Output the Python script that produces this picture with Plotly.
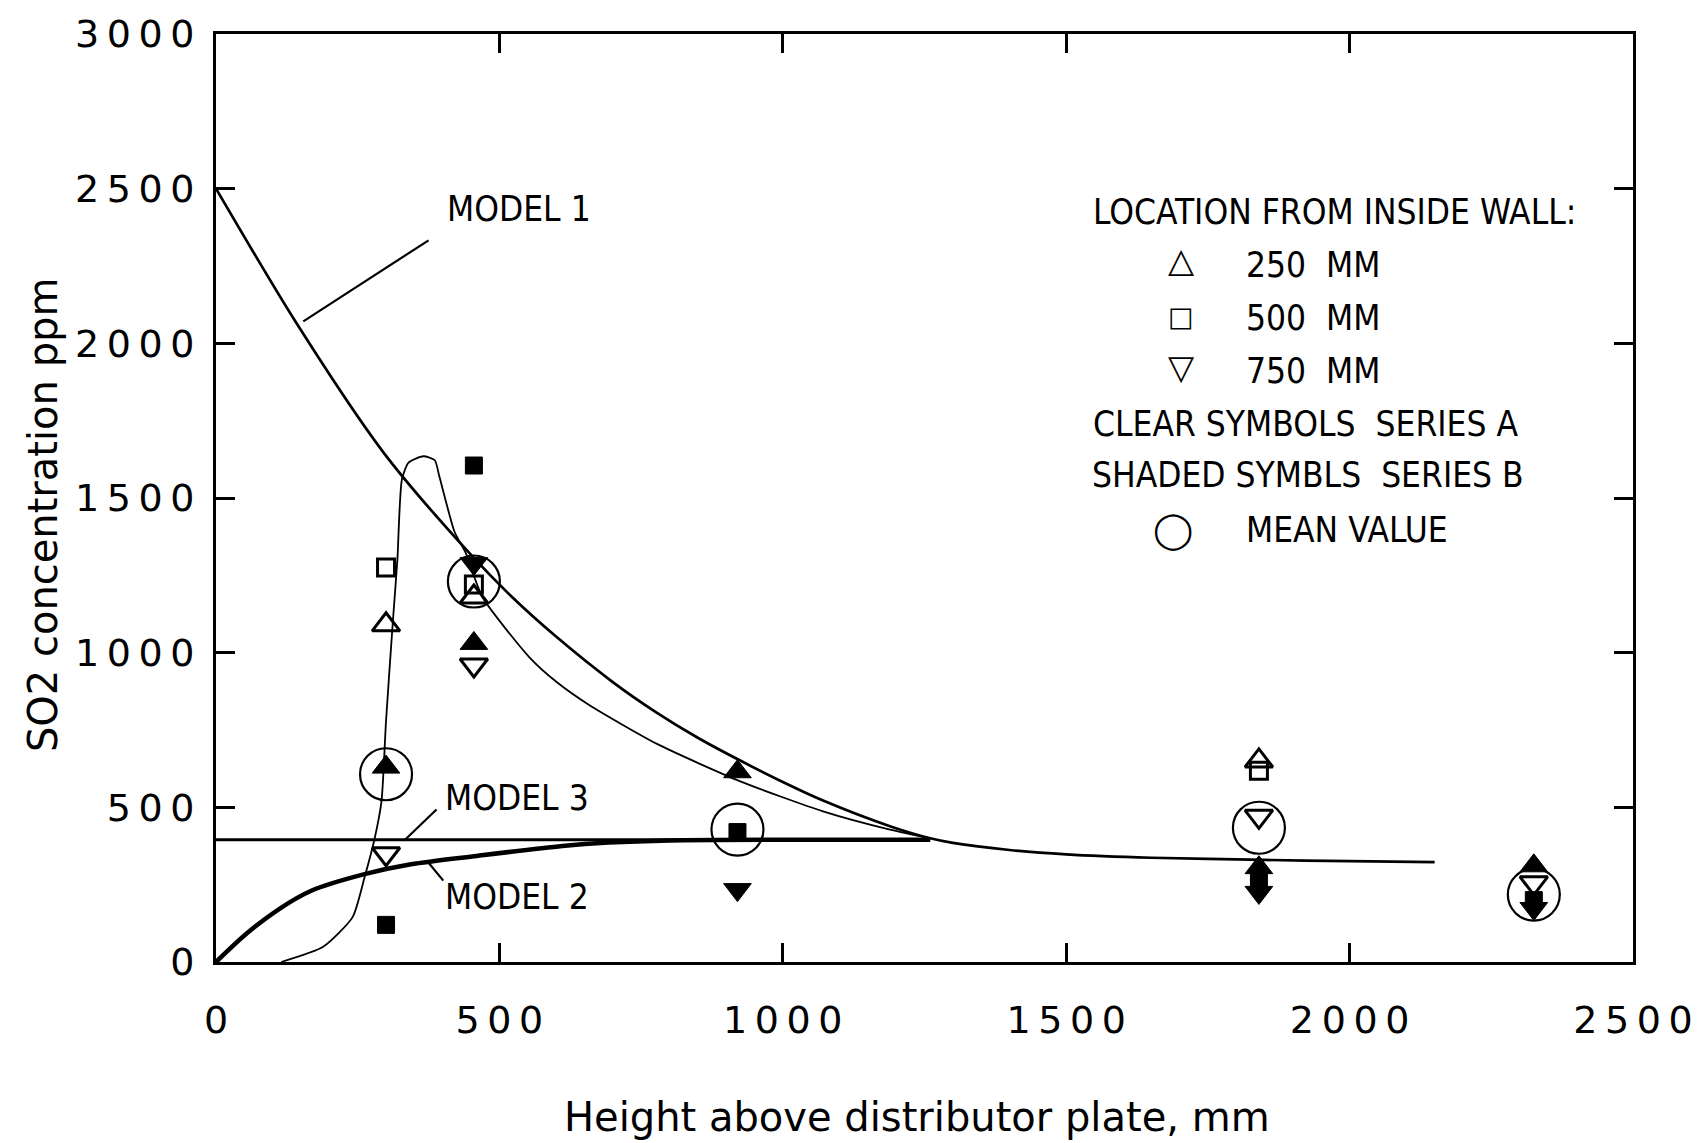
import plotly.graph_objects as go

# ---------------- data ----------------
# Measured SO2 concentration (ppm) at each sampling height (mm)
heights = [300, 455, 920, 1840, 2325]

# Series A (clear symbols), by radial location from the inside wall
a250_x = [300, 455, 1840]
a250_y = [1090, 1180, 650]
a500_x = [300, 455, 1840]
a500_y = [1275, 1220, 618]
a750_x = [300, 455, 1840, 2325]
a750_y = [350, 960, 471, 256]

# Series B (shaded symbols)
b250_x = [300, 455, 920, 1840, 2325]
b250_y = [630, 1030, 615, 305, 311]
b500_x = [300, 455, 920, 1840, 2325]
b500_y = [120, 1605, 420, 266, 200]
b750_x = [455, 920, 1840, 2325]
b750_y = [1288, 234, 225, 173]

# Mean value at each height
mean_y = [607, 1230, 428, 434, 218]

# Model predictions
model1_x = [0, 141, 296, 448, 520, 600, 700, 776, 850, 924, 1000, 1071, 1189, 1260,
            1300, 1400, 1500, 1650, 1850, 2000, 2150]
model1_y = [2500, 2068, 1646, 1320, 1184, 1052, 905, 808, 725, 652, 582, 522, 439, 400,
            385, 362, 348, 337, 330, 326, 323]
model2_x = [0, 54, 112, 169, 262, 344, 460, 611, 693, 800, 1000, 1260]
model2_y = [0, 92, 172, 231, 284, 316, 343, 375, 386, 393, 395, 395]
model3_x = [0, 1260]
model3_y = [395, 395]
# Curve drawn through the measurements
fit_x = [115, 189, 241, 262, 280, 292, 300, 312, 320, 328, 340, 366, 386, 394, 421, 440,
         470, 553, 601, 659, 778, 925, 1071, 1189, 1260]
fit_y = [0, 49, 145, 273, 400, 520, 780, 1100, 1300, 1560, 1615, 1635, 1622, 1570, 1390, 1325,
         1180, 985, 905, 830, 705, 584, 487, 428, 400]

x_ticks = [0, 500, 1000, 1500, 2000, 2500]
y_ticks = [0, 500, 1000, 1500, 2000, 2500, 3000]

# ---------------- styling ----------------
TICK_FONT = "DejaVu Sans"
LABEL_FONT = "DejaVu Sans Condensed, Liberation Sans Narrow, Liberation Sans, sans-serif"
BLACK = "black"


def spaced(v):
    return "\u2009".join(str(v))


fig = go.Figure()

# model curves
fig.add_trace(go.Scatter(x=model3_x, y=model3_y, mode="lines",
                         line=dict(color=BLACK, width=3), name="Model 3"))
fig.add_trace(go.Scatter(x=model2_x, y=model2_y, mode="lines",
                         line=dict(color=BLACK, width=4.5, shape="spline", smoothing=0.8),
                         name="Model 2"))
fig.add_trace(go.Scatter(x=model1_x, y=model1_y, mode="lines",
                         line=dict(color=BLACK, width=2.7, shape="spline", smoothing=0.8),
                         name="Model 1"))
fig.add_trace(go.Scatter(x=fit_x, y=fit_y, mode="lines",
                         line=dict(color=BLACK, width=1.8, shape="spline", smoothing=0.6),
                         name="fit"))

# mean value circles
fig.add_trace(go.Scatter(x=heights, y=mean_y, mode="markers",
                         marker=dict(symbol="circle-open", size=52, color=BLACK,
                                     line=dict(width=2.2, color=BLACK)),
                         name="Mean value"))

TRI = 24
SQ = 17
open_line = dict(width=3, color=BLACK)
fill_line = dict(width=1, color=BLACK)

# series A (open)
fig.add_trace(go.Scatter(x=a250_x, y=a250_y, mode="markers",
                         marker=dict(symbol="triangle-up-open", size=TRI, color=BLACK, line=open_line),
                         name="250 MM A"))
fig.add_trace(go.Scatter(x=a500_x, y=a500_y, mode="markers",
                         marker=dict(symbol="square-open", size=SQ, color=BLACK, line=open_line),
                         name="500 MM A"))
fig.add_trace(go.Scatter(x=a750_x, y=a750_y, mode="markers",
                         marker=dict(symbol="triangle-down-open", size=TRI, color=BLACK, line=open_line),
                         name="750 MM A"))
# series B (shaded)
fig.add_trace(go.Scatter(x=b250_x, y=b250_y, mode="markers",
                         marker=dict(symbol="triangle-up", size=TRI, color=BLACK, line=fill_line),
                         name="250 MM B"))
fig.add_trace(go.Scatter(x=b500_x, y=b500_y, mode="markers",
                         marker=dict(symbol="square", size=SQ, color=BLACK, line=fill_line),
                         name="500 MM B"))
fig.add_trace(go.Scatter(x=b750_x, y=b750_y, mode="markers",
                         marker=dict(symbol="triangle-down", size=TRI, color=BLACK, line=fill_line),
                         name="750 MM B"))

annotations = []


def label(x, y, text, size=35, font=LABEL_FONT, xanchor="left", xshift=0, yshift=5):
    annotations.append(dict(x=x, y=y, xref="x", yref="y", text=text, showarrow=False,
                            xanchor=xanchor, yanchor="middle", xshift=xshift, yshift=yshift,
                            font=dict(family=font, size=size, color=BLACK)))


# model labels
label(404, 2418, "MODEL 1")
label(401, 514, "MODEL 3")
label(401, 194, "MODEL 2")

# legend block
label(1544, 2410, "LOCATION FROM INSIDE WALL:")
label(1814, 2237, "250\u00a0\u00a0MM")
label(1814, 2067, "500\u00a0\u00a0MM")
label(1814, 1894, "750\u00a0\u00a0MM")
label(1544, 1724, "CLEAR SYMBOLS\u00a0\u00a0SERIES A")
label(1542, 1558, "SHADED SYMBLS\u00a0\u00a0SERIES B")
label(1814, 1381, "MEAN VALUE")
label(1689, 2231, "\u25b3", size=34, font="DejaVu Sans", xanchor="center", xshift=8, yshift=12)
label(1689, 2064, "\u25a1", size=27, font="DejaVu Sans", xanchor="center", xshift=8, yshift=7)
label(1689, 1891, "\u25bd", size=34, font="DejaVu Sans", xanchor="center", xshift=8, yshift=10)
label(1681, 1369, "\u25ef", size=36, font="DejaVu Sans", xanchor="center", xshift=4, yshift=9)

# axis titles
annotations.append(dict(x=0.495, y=-0.167, xref="paper", yref="paper",
                        text="Height above distributor plate, mm", showarrow=False,
                        xanchor="center", yanchor="middle",
                        font=dict(family="DejaVu Sans", size=40, color=BLACK)))
annotations.append(dict(x=-0.1225, y=0.482, xref="paper", yref="paper",
                        text="SO2 concentration ppm", showarrow=False, textangle=-90,
                        xanchor="center", yanchor="middle",
                        font=dict(family="DejaVu Sans", size=40, color=BLACK)))

# leader lines from labels to curves
leaders = [
    ((375, 2333), (154, 2071)),
    ((389, 493), (334, 396)),
    ((375, 321), (401, 263)),
]
shapes = [dict(type="line", xref="x", yref="y", x0=a[0], y0=a[1], x1=b[0], y1=b[1],
               line=dict(color=BLACK, width=2.2)) for a, b in leaders]

axis_common = dict(showgrid=False, zeroline=False, showline=True, linewidth=3, linecolor=BLACK,
                   mirror="ticks", ticks="inside", ticklen=19, tickwidth=3, tickcolor=BLACK,
                   tickfont=dict(family=TICK_FONT, size=38, color=BLACK))

fig.update_layout(
    width=1705, height=1143,
    margin=dict(l=216, r=61, t=27, b=181),
    paper_bgcolor="white", plot_bgcolor="white",
    showlegend=False,
    xaxis=dict(range=[0, 2500], tickvals=x_ticks, ticktext=[spaced(v) for v in x_ticks],
               ticklabelstandoff=22, **axis_common),
    yaxis=dict(range=[0, 3000], tickvals=y_ticks, ticktext=[spaced(v) for v in y_ticks],
               ticklabelstandoff=11, **axis_common),
    annotations=annotations,
    shapes=shapes,
)

fig.write_html("out.html")
